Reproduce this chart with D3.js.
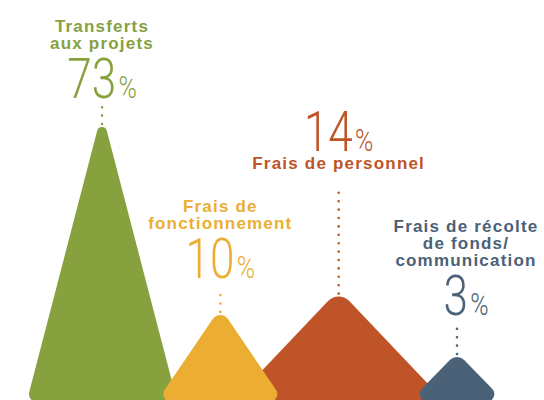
<!DOCTYPE html>
<html>
<head>
<meta charset="utf-8">
<script src="https://cdn.jsdelivr.net/npm/d3@7"></script>
<style>
  body { margin: 0; background: #fff; }
  svg { display: block; }
</style>
</head>
<body>
<div id="chart"></div>
<script>
// data
const categories = ["Transferts aux projets", "Frais de fonctionnement", "Frais de personnel", "Frais de récolte de fonds/ communication"];
const labelLines = [["Transferts", "aux projets"], ["Frais de", "fonctionnement"], ["Frais de personnel"], ["Frais de récolte", "de fonds/", "communication"]];
const shares = [73, 10, 14, 3];
const colors = ["#87a13f", "#ebae32", "#be5427", "#4a6177"];

// layout
const WIDTH = 544;
const HEIGHT = 400;
const BASE = 402;
const SLOPE = [0.26, 0.68, 0.95, 0.98];    // half base / height of each peak
const R_APEX = [5, 9, 15, 10];
const R_FOOT = 8;
const NUM_Y = [98, 278, 151, 315];         // baseline of the big number
const LABEL_DX = [0, 0, 0, 9];
const numberFirst = [false, false, true, false];

const x = d3.scalePoint().domain(categories).range([102, 457]);
const h = d3.scalePow().exponent(0.6).domain([3, 73]).range([45, 275]);

const svg = d3.select("#chart")
  .append("svg")
    .attr("width", WIDTH)
    .attr("height", HEIGHT);

const items = categories.map((c, i) => ({ c, i, v: shares[i] }));

function peak(d) {
  const cx = x(d.c);
  const top = BASE - h(d.v);
  const s = SLOPE[d.i], ra = R_APEX[d.i];
  const off = ra * (1 / Math.sin(Math.atan(s)) - 1);
  const vy = top - off;
  const hb = s * (BASE - vy);
  const p = d3.path();
  p.moveTo(cx, BASE);
  p.arcTo(cx + hb, BASE, cx, vy, R_FOOT);
  p.arcTo(cx, vy, cx - hb, BASE, ra);
  p.arcTo(cx - hb, BASE, cx, BASE, R_FOOT);
  p.closePath();
  return p.toString();
}

// bigger peaks behind
svg.append("g")
  .selectAll("path")
  .data(items.slice().sort((a, b) => b.v - a.v))
  .join("path")
    .attr("d", peak)
    .attr("fill", d => colors[d.i]);

const labelFont = "'Liberation Sans', Arial, sans-serif";

items.forEach(d => {
  const cx = x(d.c);
  const col = colors[d.i];
  const ny = NUM_Y[d.i];
  const g = svg.append("g").attr("transform", `translate(${LABEL_DX[d.i]},0)`);

  let lines = labelLines[d.i];
  let firstBase, dotTop;
  if (numberFirst[d.i]) {
    firstBase = ny + 18;
    dotTop = firstBase + 16;
  } else {
    firstBase = ny - 49 - (lines.length - 1) * 17;
    dotTop = ny + 9;
  }

  g.selectAll("text.lbl")
    .data(lines)
    .join("text")
      .attr("class", "lbl")
      .attr("x", cx)
      .attr("y", (t, k) => firstBase + k * 17)
      .attr("text-anchor", "middle")
      .attr("font-family", labelFont)
      .attr("font-weight", "bold")
      .attr("font-size", 17)
      .attr("letter-spacing", 1.2)
      .attr("fill", col)
      .text(t => t);

  const num = g.append("g")
    .attr("transform", `translate(${cx},${ny}) scale(0.8,1)`)
    .append("text")
      .attr("text-anchor", "middle")
      .attr("font-family", "Roboto, 'DejaVu Sans', sans-serif")
      .attr("font-weight", 300)
      .attr("font-size", 55)
      .attr("fill", col);
  num.append("tspan").text(d.v);
  num.append("tspan").attr("font-size", 31).attr("dx", 3).text("%");

  // dotted leader down to the peak
  const apexTop = BASE - h(d.v) - 3;
  svg.append("line")
    .attr("x1", cx).attr("x2", cx)
    .attr("y1", apexTop).attr("y2", dotTop)
    .attr("stroke", col)
    .attr("stroke-width", 2.6)
    .attr("stroke-linecap", "round")
    .attr("stroke-dasharray", "0 8.4");
});
</script>
</body>
</html>
